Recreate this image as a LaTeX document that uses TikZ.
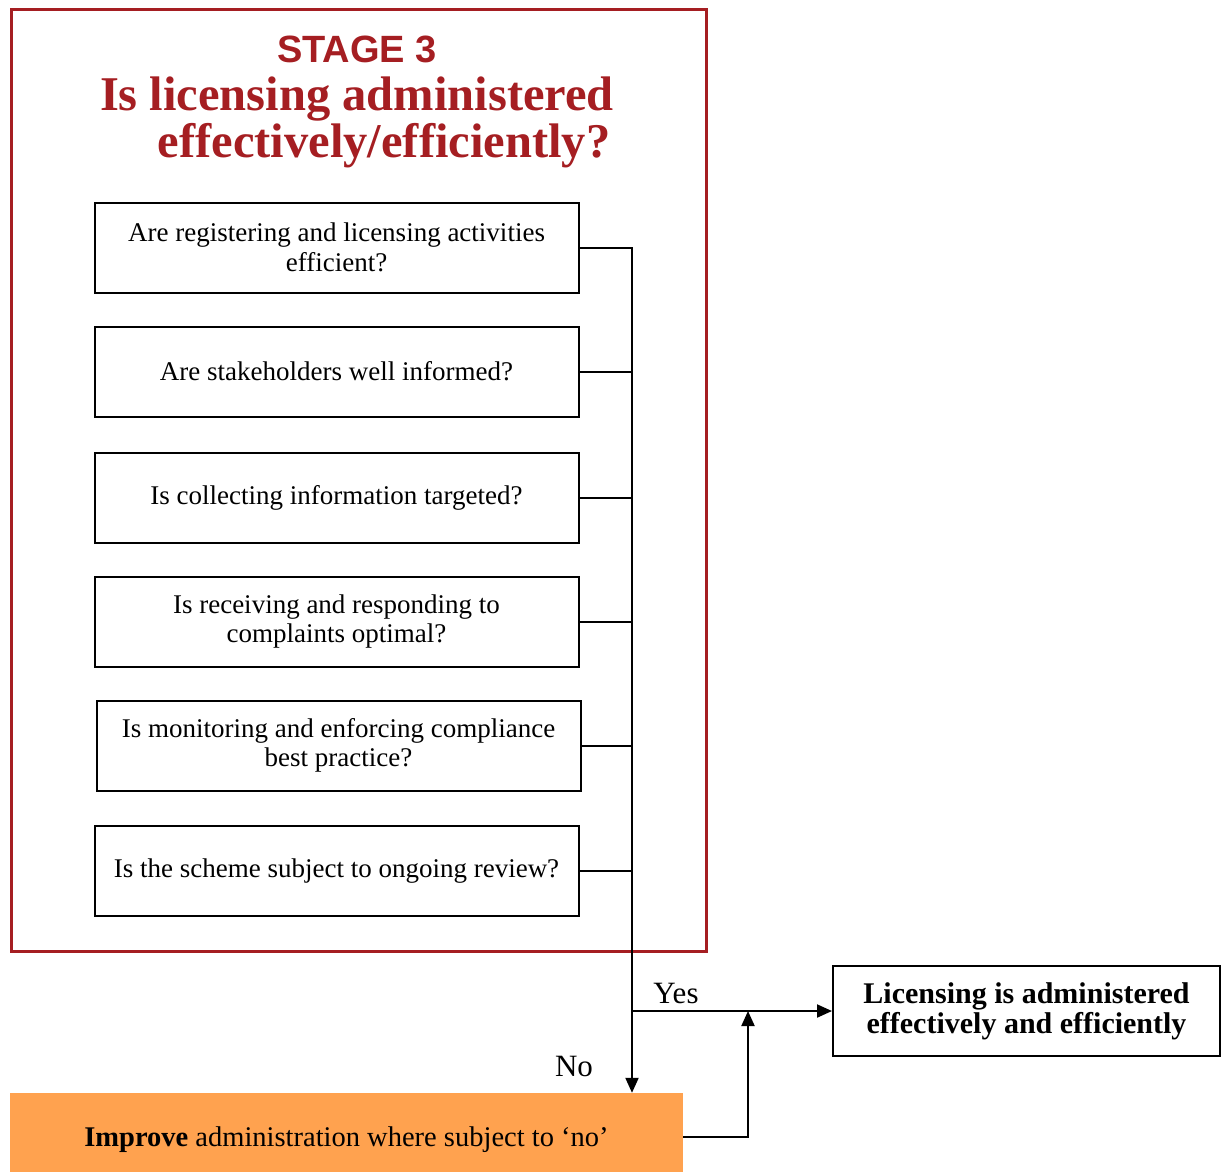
\documentclass[tikz,border=0pt]{standalone}
\usepackage{fontspec}
\setmainfont{Liberation Serif}
\newfontfamily\stagefont{Liberation Sans}
\usetikzlibrary{arrows.meta}
\definecolor{stagered}{HTML}{A51E22}
\definecolor{improveorange}{HTML}{FFA24F}

\begin{document}
\begin{tikzpicture}[x=1pt,y=-1pt,
  qbox/.style={draw,line width=2pt,minimum width=484pt,minimum height=90pt,
    inner sep=0pt,align=center,font=\fontsize{27}{29.5}\selectfont},
  link/.style={line width=2pt},
  flow/.style={line width=2pt,-{Triangle[length=15pt,width=13pt]}},
  lbl/.style={inner sep=0pt,font=\fontsize{31}{34}\selectfont},
]
\useasboundingbox (0,0) rectangle (1222,1173);

% stage frame and heading
\node[draw=stagered,line width=3pt,minimum width=695pt,minimum height=942pt,
  inner sep=0pt,anchor=north west] (stage) at (10,8) {};
\node[text=stagered,inner sep=0pt,font=\stagefont\bfseries\fontsize{38}{40}\selectfont]
  (stagenum) at (357,49) {STAGE 3};
\node[text=stagered,inner sep=0pt,anchor=base,font=\bfseries\fontsize{48.5}{50}\selectfont]
  (headA) at (357,110) {Is licensing administered};
\node[text=stagered,inner sep=0pt,anchor=base,font=\bfseries\fontsize{48.5}{50}\selectfont]
  (headB) at (384,157) {effectively/efficiently?};

% questions
\node[qbox] (q1) at (336.5,247.5) {Are registering and licensing activities\\efficient?};
\node[qbox] (q2) at (336.5,371.5) {Are stakeholders well informed?};
\node[qbox] (q3) at (336.5,497.5) {Is collecting information targeted?};
\node[qbox] (q4) at (336.5,621.5) {Is receiving and responding to\\complaints optimal?};
\node[qbox] (q5) at (338.5,745.5) {Is monitoring and enforcing compliance\\best practice?};
\node[qbox] (q6) at (336.5,871) {Is the scheme subject to ongoing review?};

% outcomes
\node[fill=improveorange,minimum width=673pt,minimum height=79pt,inner sep=0pt,
  text height=28pt,text depth=0pt,
  font=\fontsize{28.5}{30}\selectfont] (improve) at (346.5,1132.5)
  {\textbf{Improve} administration where subject to ‘no’};
\node[draw,line width=2pt,minimum width=387pt,minimum height=90pt,inner sep=0pt,
  align=center,font=\bfseries\fontsize{30}{30}\selectfont] (done) at (1026.5,1011)
  {Licensing is administered\\effectively and efficiently};

% collecting spine
\coordinate (spine) at (632,247);
\foreach \q in {q1,q2,q3,q4,q5,q6}
  \draw[link] (\q.east) -- (\q.east -| spine);
\draw[flow] (spine) -- (spine |- improve.north);

% yes / no branches
\coordinate (fork) at (spine |- done.west);
\coordinate (merge) at (748,1011);
\draw[flow] (fork) -- (done.west);
\draw[flow] (improve.east) ++(0,4) -| (merge);
\node[lbl] (yes) at (676,993) {Yes};
\node[lbl] (no) at (574,1066) {No};
\end{tikzpicture}
\end{document}
